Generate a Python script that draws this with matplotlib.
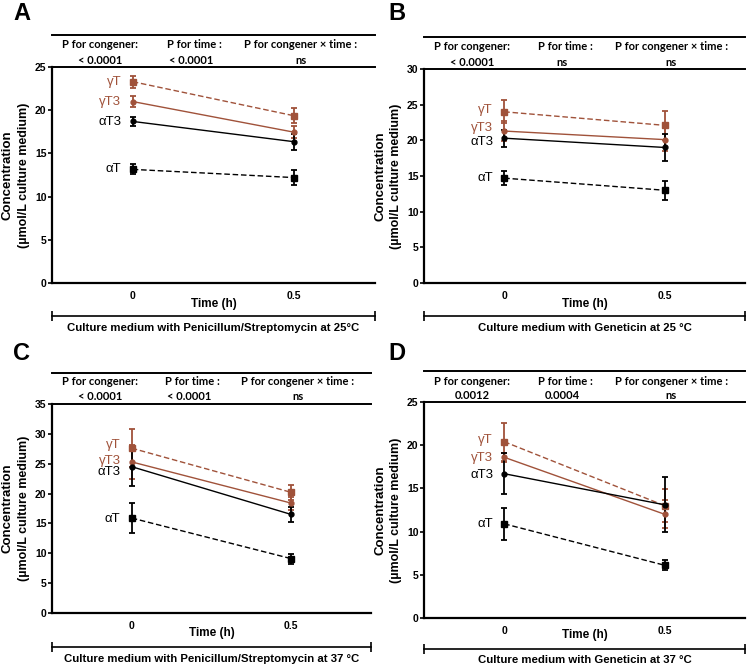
import matplotlib
matplotlib.use("Agg")
import matplotlib.pyplot as plt

# time points (h)
times = [0, 0.5]
congeners = ["γT", "γT3", "αT3", "αT"]

# means / SEM per panel, rows follow `congeners`
a_means = [[23.3, 19.35], [21.0, 17.45], [18.7, 16.35], [13.15, 12.2]]
a_errs = [[0.7, 0.85], [0.65, 0.7], [0.55, 0.9], [0.58, 0.9]]
b_means = [[24.0, 22.1], [21.3, 20.1], [20.3, 19.0], [14.7, 13.0]]
b_errs = [[1.6, 2.0], [1.4, 1.6], [1.2, 1.9], [0.95, 1.3]]
c_means = [[27.6, 20.2], [25.3, 18.4], [24.5, 16.5], [15.9, 9.1]]
c_errs = [[3.2, 1.2], [2.9, 1.1], [3.3, 1.3], [2.5, 0.85]]
d_means = [[20.4, 13.0], [18.6, 12.0], [16.7, 13.1], [10.9, 6.1]]
d_errs = [[2.2, 1.9], [0.5, 1.6], [2.35, 3.2], [1.85, 0.6]]

p_headers = ["P for congener:", "P for time :", "P for congener × time :"]
a_p = ["< 0.0001", "< 0.0001", "ns"]
b_p = ["< 0.0001", "ns", "ns"]
c_p = ["< 0.0001", "< 0.0001", "ns"]
d_p = ["0.0012", "0.0004", "ns"]

a_yticks = [0, 5, 10, 15, 20, 25]
b_yticks = [0, 5, 10, 15, 20, 25, 30]
c_yticks = [0, 5, 10, 15, 20, 25, 30, 35]
d_yticks = [0, 5, 10, 15, 20, 25]

a_caption = "Culture medium with Penicillum/Streptomycin at 25°C"
b_caption = "Culture medium with Geneticin at 25 °C"
c_caption = "Culture medium with Penicillum/Streptomycin at 37 °C"
d_caption = "Culture medium with Geneticin at 37 °C"

# styling
BROWN = "#a0523a"
colors = [BROWN, BROWN, "black", "black"]
styles = ["--", "-", "-", "--"]
markers = ["s", "o", "o", "s"]
msizes = [4.5, 3.5, 3.5, 4.5]

W, H = 750, 667
fig = plt.figure(figsize=(W / 100, H / 100), dpi=100)

SANS = "Liberation Sans"
TABLE_FONT = "Lato"

# label y positions (data units) for the congener names
a_lab = [23.3, 21.0, 18.6, 13.2]
b_lab = [24.2, 21.7, 19.8, 14.7]
c_lab = [28.2, 25.5, 23.6, 15.7]
d_lab = [20.6, 18.5, 16.6, 10.85]

# pixel layout: left, top, right, bottom of axes, plus rows above/below
panels = [
    dict(letter="A", box=(52, 67, 375, 283), means=a_means, errs=a_errs, p=a_p,
         yticks=a_yticks, caption=a_caption, lab=a_lab, lx=(22, 14),
         tline=35, r1=45, r2=60, time=304, brk=316, cap=328),
    dict(letter="B", box=(424, 69, 745, 283), means=b_means, errs=b_errs, p=b_p,
         yticks=b_yticks, caption=b_caption, lab=b_lab, lx=(397, 14),
         tline=37, r1=47, r2=62, time=304, brk=316, cap=328),
    dict(letter="C", box=(52, 404, 371, 613), means=c_means, errs=c_errs, p=c_p,
         yticks=c_yticks, caption=c_caption, lab=c_lab, lx=(22, 354),
         tline=373, r1=382, r2=396, time=633, brk=647, cap=659),
    dict(letter="D", box=(424, 402, 745, 618), means=d_means, errs=d_errs, p=d_p,
         yticks=d_yticks, caption=d_caption, lab=d_lab, lx=(397, 353),
         tline=371, r1=381, r2=395, time=635, brk=649, cap=660),
]

hx = [0.15, 0.44, 0.77]
rx = [0.15, 0.43, 0.77]

for pn in panels:
    L, T, R, B = pn["box"]
    ax = fig.add_axes([L / W, 1 - B / H, (R - L) / W, (B - T) / H])

    def ay(py):
        return (B - py) / (B - T)

    for i, name in enumerate(congeners):
        ax.errorbar(times, pn["means"][i], yerr=pn["errs"][i], color=colors[i],
                    ls=styles[i], lw=1.0, marker=markers[i], ms=msizes[i],
                    elinewidth=1.3, capsize=2.5, capthick=1.3, clip_on=False,
                    dashes=(4, 2) if styles[i] == "--" else (None, None))
        ax.text(-0.035, pn["lab"][i], name, color=colors[i], ha="right",
                va="center", fontsize=9.5, family=SANS)

    ax.set_xlim(-0.25, 0.75)
    ax.set_ylim(0, pn["yticks"][-1])
    ax.set_xticks(times)
    ax.set_xticklabels(["0", "0.5"])
    ax.set_yticks(pn["yticks"])
    for s in ["top", "right"]:
        ax.spines[s].set_visible(False)
    for s in ["left", "bottom"]:
        ax.spines[s].set_linewidth(1.6)
    ax.tick_params(axis="y", length=3, width=1.2, pad=1, labelsize=7.5)
    ax.tick_params(axis="x", length=0, pad=6, labelsize=7.5)
    for lbl in ax.get_xticklabels() + ax.get_yticklabels():
        lbl.set_fontweight("bold")
        lbl.set_family(SANS)

    # P-value table above the axes
    for yy in (ay(pn["tline"]), 1.0):
        ax.plot([0, 1], [yy, yy], color="black", lw=1.4, transform=ax.transAxes,
                clip_on=False)
    for j in range(3):
        ax.text(hx[j], ay(pn["r1"]), p_headers[j], transform=ax.transAxes,
                ha="center", va="center", fontsize=8, weight="bold",
                family=TABLE_FONT)
        ax.text(rx[j], ay(pn["r2"]), pn["p"][j], transform=ax.transAxes,
                ha="center", va="center", fontsize=8, weight="bold",
                family=TABLE_FONT)

    # x label, bracket and caption
    ax.text(0.5, ay(pn["time"]), "Time (h)", transform=ax.transAxes,
            ha="center", va="center", fontsize=8.5, weight="bold", family=SANS)
    ax.plot([0, 1], [ay(pn["brk"])] * 2, color="black", lw=1.2,
            transform=ax.transAxes, clip_on=False)
    ax.plot([0, 1], [ay(pn["brk"])] * 2, ls="none", marker="|", ms=7,
            mew=1.2, color="black", transform=ax.transAxes, clip_on=False)
    ax.text(0.5, ay(pn["cap"]), pn["caption"], transform=ax.transAxes,
            ha="center", va="center", fontsize=8.2, weight="bold", family=SANS)

    # y label, two lines
    yc = 1 - ((T + B) / 2) / H
    fig.text((L - 44) / W, yc, "Concentration", rotation=90, ha="center",
             va="center", fontsize=9.5, weight="bold", family=SANS)
    fig.text((L - 28) / W, yc, "(µmol/L culture medium)", rotation=90,
             ha="center", va="center", fontsize=9, weight="bold", family=SANS)

    fig.text(pn["lx"][0] / W, 1 - pn["lx"][1] / H, pn["letter"], ha="center",
             va="center", fontsize=17, weight="bold", family=SANS)

fig.savefig("out.png", dpi=100)
